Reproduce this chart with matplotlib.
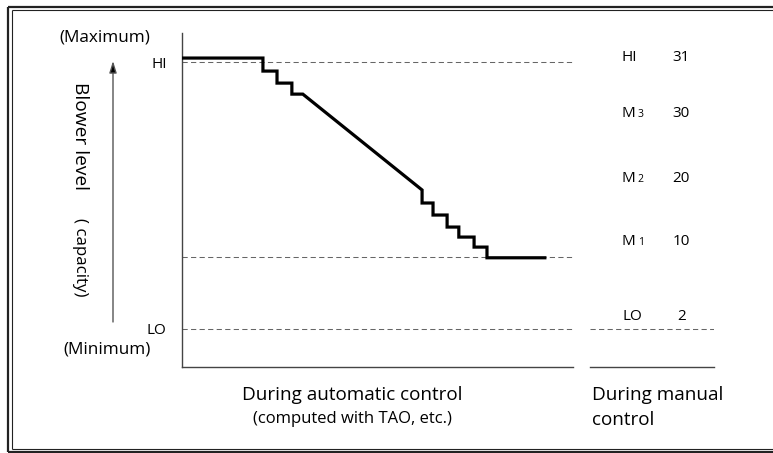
import matplotlib
matplotlib.use("Agg")
import matplotlib.pyplot as plt

plt.rcParams['font.family'] = ['Open Sans', 'DejaVu Sans']

# ---- data (levels in arbitrary 0..100 units, time 0..100) ----
curve_x = [0, 20.7, 20.7, 24.3, 24.3, 28.1, 28.1, 30.9, 61.4, 61.4, 64.2, 64.2,
           67.8, 67.8, 70.8, 70.8, 74.7, 74.7, 78.0, 78.0, 92.8]
curve_y = [92.5, 92.5, 88.6, 88.6, 85.0, 85.0, 81.7, 81.7, 53.0, 49.1, 49.1, 45.5,
           45.5, 41.9, 41.9, 38.9, 38.9, 35.9, 35.9, 32.7, 32.7]
level_hi = 91.3
level_lo = 11.4
level_m1 = 32.8
axis_tick_labels = ["HI", "LO"]

manual_names = ["HI", "M", "M", "M", "LO"]
manual_subs = ["", "3", "2", "1", ""]
manual_values = ["31", "30", "20", "10", "2"]
manual_label_levels = [93.1, 76.3, 56.9, 38.0, 15.6]

W, H = 773, 453
fig = plt.figure(figsize=(W / 100, H / 100), dpi=100)

def fr(x0, y0, x1, y1):
    return [x0 / W, 1 - y1 / H, (x1 - x0) / W, (y1 - y0) / H]

# overlay axes in pixel coords for frame and free text
ov = fig.add_axes([0, 0, 1, 1], zorder=0)
ov.set_xlim(0, W)
ov.set_ylim(H, 0)
ov.axis('off')

# double frame
for (xs, ys, lw) in [([8, 8], [6.5, 452], 1.6), ([11.5, 11.5], [10, 449], 0.8),
                     ([8, W + 5], [6.5, 6.5], 1.6), ([11.5, W + 5], [10, 10], 0.8),
                     ([8, W + 5], [452, 452], 1.6), ([11.5, W + 5], [449, 449], 0.8)]:
    ov.plot(xs, ys, color='#222222', lw=lw, solid_capstyle='butt')

# main axes
ax = fig.add_axes(fr(182, 33, 573, 367), zorder=1)
ax.patch.set_alpha(0)
ax.set_xlim(0, 100)
ax.set_ylim(0, 100)
for s in ['top', 'right']:
    ax.spines[s].set_visible(False)
for s in ['left', 'bottom']:
    ax.spines[s].set_color('#444444')
    ax.spines[s].set_linewidth(1.0)
ax.set_xticks([])
ax.set_yticks([level_hi, level_lo])
ax.set_yticklabels(axis_tick_labels, fontsize=11)
ax.tick_params(axis='y', length=0, pad=11)

dash = (0, (5, 3.2))
for lv in [level_hi, level_m1, level_lo]:
    ax.axhline(lv, xmin=0, xmax=0.997, color='#666666', lw=0.75, linestyle=dash)
ax.plot(curve_x, curve_y, color='black', lw=2.3, solid_joinstyle='miter', zorder=3)

# manual axes
axm = fig.add_axes(fr(590, 33, 714, 367), zorder=1)
axm.patch.set_alpha(0)
axm.set_xlim(0, 1)
axm.set_ylim(0, 100)
for s in ['top', 'right', 'left']:
    axm.spines[s].set_visible(False)
axm.spines['bottom'].set_color('#444444')
axm.spines['bottom'].set_linewidth(1.0)
axm.set_xticks([])
axm.set_yticks([])
axm.axhline(level_lo, color='#666666', lw=0.75, linestyle=dash)

for name, sub, val, lv in zip(manual_names, manual_subs, manual_values, manual_label_levels):
    x0 = 0.255 if name != "LO" else 0.26
    base = lv - 1.4
    axm.text(x0, base, name, fontsize=11, ha='left', va='baseline')
    if sub:
        axm.text(x0 + 0.13, base, sub, fontsize=7.5, ha='left', va='baseline')
    axm.text(0.735, base, val, fontsize=11, ha='center', va='baseline')

# arrow for blower level
ov.annotate('', xy=(113, 61), xytext=(113, 322),
            arrowprops=dict(arrowstyle='-|>,head_length=0.7,head_width=0.22',
                            color='#555555', lw=1.0, shrinkA=0, shrinkB=0,
                            fc='black', ec='#555555'))

ov.text(105, 38, "(Maximum)", fontsize=12.3, ha='center', va='center')
ov.text(107, 350, "(Minimum)", fontsize=12.3, ha='center', va='center')
ov.text(80, 136, "Blower level", fontsize=13.8, ha='center', va='center', rotation=-90)
ov.text(80, 257, "( capacity)", fontsize=12.2, ha='center', va='center', rotation=-90)

ov.text(352, 395, "During automatic control", fontsize=13.6, ha='center', va='center')
ov.text(352, 419, "(computed with TAO, etc.)", fontsize=12.0, ha='center', va='center')
ov.text(592, 395, "During manual", fontsize=13.6, ha='left', va='center')
ov.text(592, 420, "control", fontsize=13.6, ha='left', va='center')

fig.savefig("out.png", dpi=100)
